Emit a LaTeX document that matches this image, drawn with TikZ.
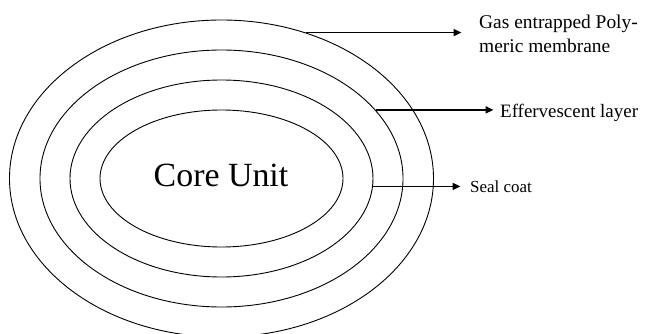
\documentclass[tikz,border=0pt]{standalone}
\usepackage{fontspec}
\setmainfont{Liberation Serif}
\usetikzlibrary{arrows.meta,shapes.geometric}
\begin{document}
\begin{tikzpicture}[x=1bp,y=1bp,
  layer/.style={ellipse, draw, line width=0.9bp, inner sep=0pt},
  pointer/.style={line width=1.7bp, -{Triangle[length=8bp,width=7bp]}},
  lbl/.style={inner sep=0pt, align=left}]
\useasboundingbox (0,0) rectangle (648,333);
\clip (0,0) rectangle (648,333);
% concentric layers of the tablet, outermost first
\node[layer, minimum width=424bp, minimum height=317bp] (membrane) at (221.5,154.5) {};
\node[layer, minimum width=363bp, minimum height=257bp] (effer) at (221.5,154.5) {};
\node[layer, minimum width=303bp, minimum height=197bp] (seal) at (221.5,154.5) {};
\node[layer, minimum width=243bp, minimum height=137bp] (core) at (221.5,154.5) {};
\node[inner sep=0pt, anchor=base, font=\fontsize{34}{40}\selectfont] (corelbl) at (221,147) {Core Unit};
% labels (base of a two-line label is its last line)
\node[lbl, anchor=base west, font=\fontsize{19.5}{24.5}\selectfont] (gaslbl) at (479,280.5) {Gas entrapped Poly-\\meric membrane};
\node[lbl, anchor=base west, font=\fontsize{19}{23}\selectfont] (efflbl) at (500,216) {Effervescent layer};
\node[lbl, anchor=base west, font=\fontsize{17}{20}\selectfont] (seallbl) at (470,140.5) {Seal coat};
% pointers from each layer to its label
\draw[pointer, shorten >=17.5bp] (membrane.60) -- (membrane.60 -| gaslbl.west);
\draw[pointer, shorten >=6.5bp] (effer.24.26) -- (effer.24.26 -| efflbl.west);
\draw[pointer, shorten >=9.5bp] (seal.-3.03) -- (seal.-3.03 -| seallbl.west);
\end{tikzpicture}
\end{document}
